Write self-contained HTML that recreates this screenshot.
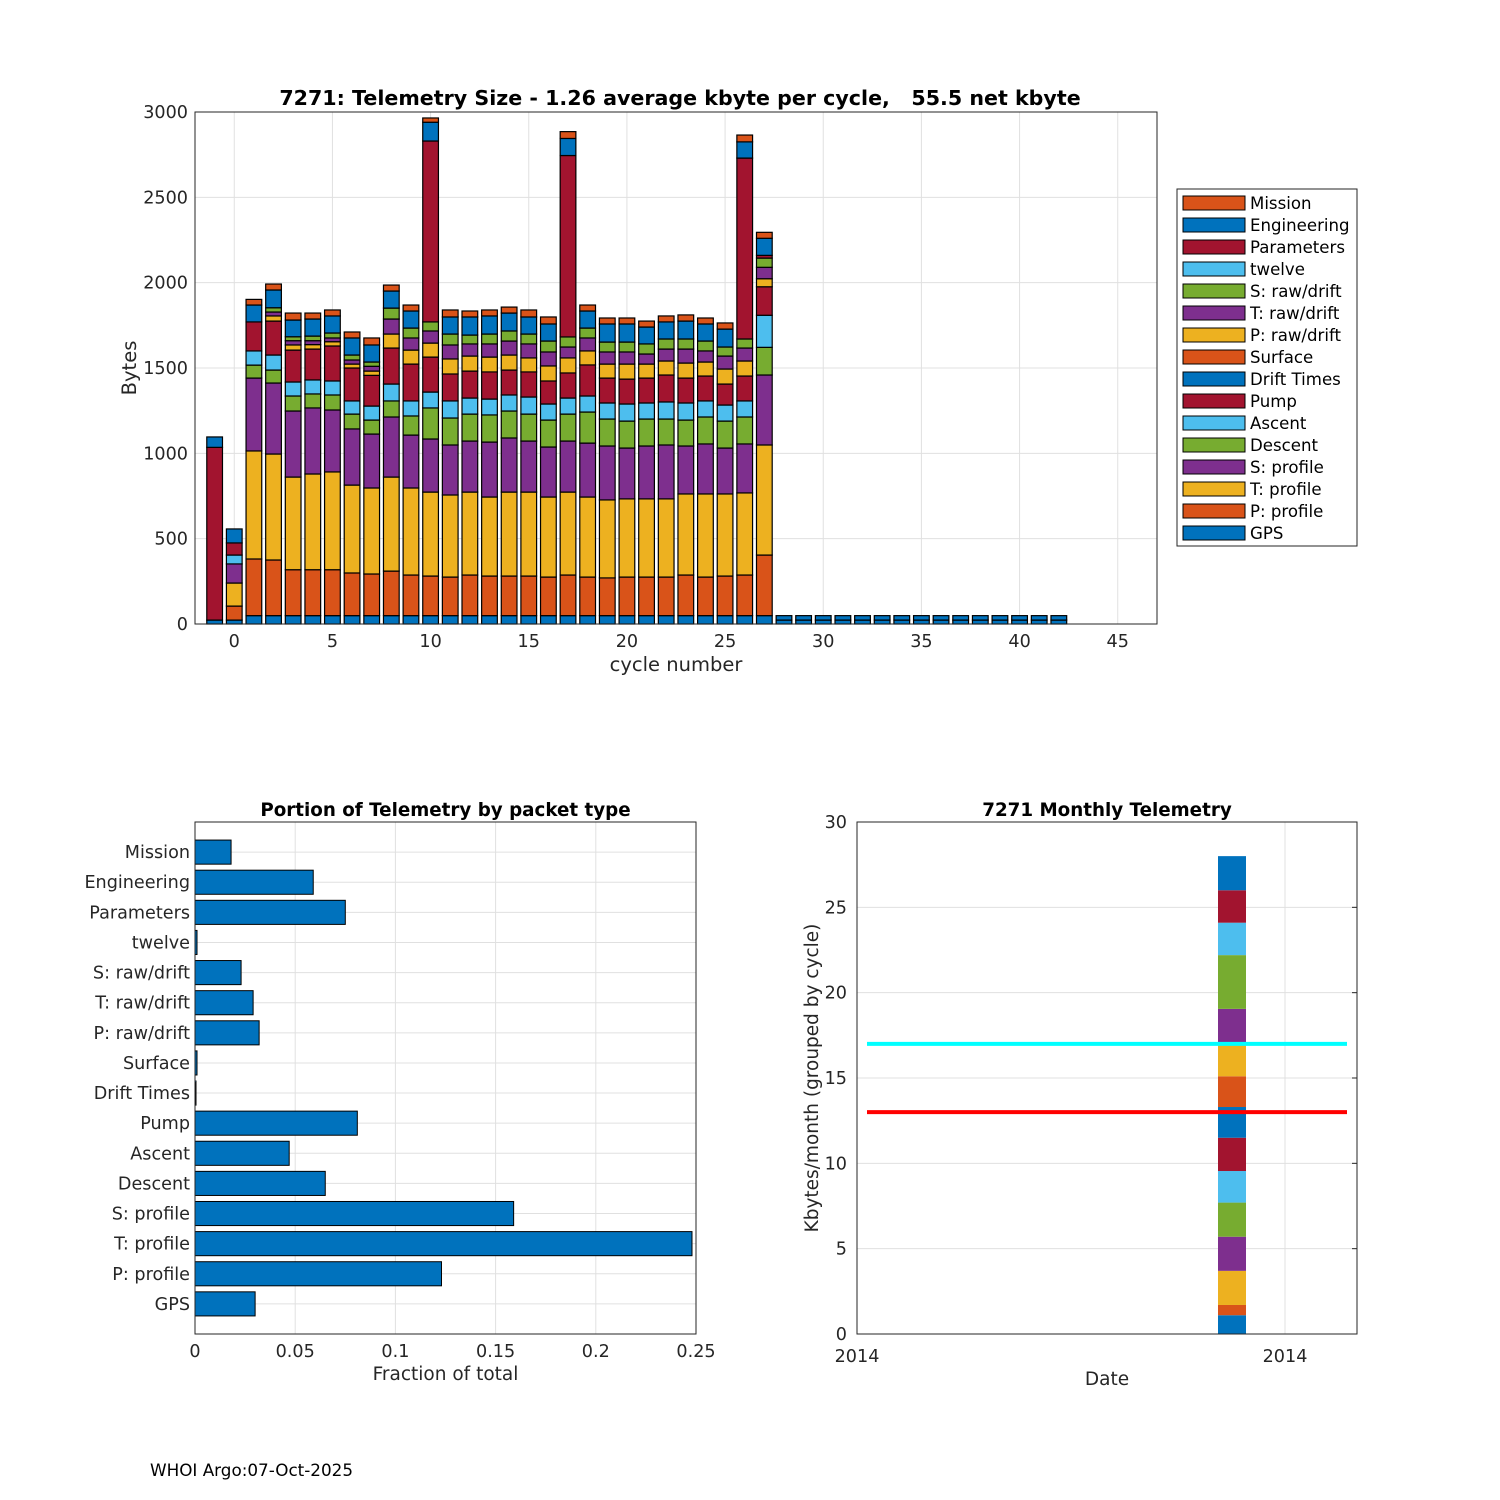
<!DOCTYPE html>
<html><head><meta charset="utf-8">
<style>
body{margin:0;background:#fff;}
svg{display:block;font-family:"DejaVu Sans","Liberation Sans",sans-serif;}
</style></head>
<body>
<svg id="fig" width="1500" height="1500" viewBox="0 0 1500 1500" xmlns="http://www.w3.org/2000/svg">
<rect width="1500" height="1500" fill="#fff"/>
<g id="top"></g><g id="bl"></g><g id="br"></g>
<text x="150" y="1476" font-size="16.8" fill="#000">WHOI Argo:07-Oct-2025</text>
</svg>
<script>
// ---- top chart data (cycles -1 .. 42) ----
const cycles = Array.from({length:44},(_,i)=>i-1);
const seriesNames = ["GPS","P: profile","T: profile","S: profile","Descent","Ascent","Pump","Drift Times","Surface","P: raw/drift","T: raw/drift","S: raw/drift","twelve","Parameters","Engineering","Mission"];
const gpsVals = [23,23,49,49,49,49,49,49,49,49,49,49,49,49,49,49,49,49,49,49,49,49,49,49,49,49,49,49,49,23,23,23,23,23,23,23,23,23,23,23,23,23,23,23];
const pProfVals = [0,82,332,326,269,269,269,250,244,261,238,232,226,238,232,232,232,226,238,226,221,226,226,226,238,226,232,238,355];
const tProfVals = [0,135,633,621,543,561,573,515,504,551,510,492,481,486,463,492,492,469,486,469,457,458,458,458,475,487,481,481,645];
const sProfVals = [0,112,427,416,387,387,363,329,316,352,310,311,293,299,322,317,299,293,299,316,316,298,310,316,281,293,269,287,410];
const descentVals = [0,0,76,76,88,82,88,87,82,94,112,182,158,158,159,158,158,158,158,182,158,158,158,152,152,158,158,158,162];
const ascentVals = [0,52,83,88,82,82,82,77,82,99,88,93,100,94,93,94,100,94,94,94,94,100,94,100,100,94,94,94,188];
const pumpVals = [1012,71,170,199,187,181,205,193,180,211,216,205,158,158,159,146,147,135,147,182,146,146,146,158,146,146,123,146,167];
const driftVals = [0,0,0,0,0,0,0,0,0,0,0,0,0,0,0,0,0,0,0,0,0,0,0,0,0,0,0,0,0,26,26,26,26,26,26,26,26,26,26,26,26,26,26,26];
const surfaceVals = [];
const pRawVals = [0,0,0,30,30,26,25,23,25,82,82,82,88,88,87,88,82,88,88,82,82,88,82,82,88,82,88,88,47];
const tRawVals = [0,0,0,23,25,23,22,24,28,88,71,71,82,71,77,82,82,82,64,76,71,71,59,70,82,65,76,76,67];
const sRawVals = [0,0,0,25,23,27,29,29,25,64,58,53,64,52,58,59,58,64,59,58,58,58,59,59,59,58,53,53,54];
const twelveVals = [];
const paramVals = [0,0,0,0,0,0,0,0,0,0,0,1060,0,0,0,0,0,0,1063,0,0,0,0,0,0,0,0,1060,16];
const engVals = [61,82,99,104,98,100,100,100,100,100,100,110,100,106,106,105,100,100,100,100,106,106,99,100,105,100,105,95,100];
const missionVals = [0,0,33,35,41,35,35,35,41,35,35,25,41,35,35,35,41,41,40,35,35,35,35,35,36,35,36,40,35];
const yTicksTop = [0,500,1000,1500,2000,2500,3000];
const xTicksTop = [0,5,10,15,20,25,30,35,40,45];

// ---- bottom-left data ----
const fracCats = ["GPS","P: profile","T: profile","S: profile","Descent","Ascent","Pump","Drift Times","Surface","P: raw/drift","T: raw/drift","S: raw/drift","twelve","Parameters","Engineering","Mission"];
const fracVals = [0.030,0.123,0.248,0.159,0.065,0.047,0.081,0.0005,0.001,0.032,0.029,0.023,0.001,0.075,0.059,0.018];
const fracTicks = [0,0.05,0.1,0.15,0.2,0.25];
const fracTickLabels = ["0","0.05","0.1","0.15","0.2","0.25"];

// ---- bottom-right data ----
const monthSegs = [1.1,0.6,2.0,2.0,2.0,1.85,1.95,1.8,1.8,1.9,2.05,3.15,1.9,1.9,2.0];
const monthYTicks = [0,5,10,15,20,25,30];
const cyanLevel = 17;
const redLevel = 13;

const C = ["#0072BD","#D95319","#EDB120","#7E2F8E","#77AC30","#4DBEEE","#A2142F"];
const NS = "http://www.w3.org/2000/svg";
const FS = 17.6;
function mk(parent, tag, attrs, text){
  const e = document.createElementNS(NS, tag);
  for (const k in attrs) e.setAttribute(k, attrs[k]);
  if (text !== undefined) e.textContent = text;
  parent.appendChild(e); return e;
}

// ===== TOP CHART =====
(function(){
  const g = document.getElementById('top');
  const L=195,R=1157,T=112,B=624;
  const xs = v => L + (v+2)/49*(R-L);
  const ys = v => B - v/3000*(B-T);
  const gridG = mk(g,'g',{});
  
  
  yTicksTop.forEach(t=>{
    mk(gridG,'line',{x1:L,x2:R,y1:ys(t),y2:ys(t),stroke:'#e0e0e0','stroke-width':1});
    const tx = mk(g,'text',{x:L-7,y:ys(t)+6,'text-anchor':'end','font-size':FS,fill:'#262626'},String(t));
    
    
  });
  xTicksTop.forEach(t=>{
    mk(gridG,'line',{x1:xs(t),x2:xs(t),y1:T,y2:B,stroke:'#e0e0e0','stroke-width':1});
    const tx = mk(g,'text',{x:xs(t),y:B+23,'text-anchor':'middle','font-size':FS,fill:'#262626'},String(t));
    
    
  });
  const series = [gpsVals,pProfVals,tProfVals,sProfVals,descentVals,ascentVals,pumpVals,driftVals,surfaceVals,pRawVals,tRawVals,sRawVals,twelveVals,paramVals,engVals,missionVals];
  const bw = 0.8/49*(R-L);
  cycles.forEach((c,i)=>{
    let acc = 0;
    series.forEach((s,k)=>{
      const v = s[i]||0;
      if (v<=0) return;
      const y0 = ys(acc), y1 = ys(acc+v);
      const r = mk(g,'rect',{x:xs(c)-bw/2,y:y1,width:bw,height:y0-y1,fill:C[k%7],stroke:'#000','stroke-width':1.2});
      
      
      acc += v;
    });
  });
  const fr = mk(g,'rect',{x:L,y:T,width:R-L,height:B-T,fill:'none',stroke:'#262626','stroke-width':1});
  
  
  const title = mk(g,'text',{x:680,y:105,'text-anchor':'middle','font-size':20.6,'font-weight':'bold',fill:'#000',style:'white-space:pre'},'7271: Telemetry Size - 1.26 average kbyte per cycle,   55.5 net kbyte');
  
  
  const yl = mk(g,'text',{x:0,y:0,transform:'translate(136,368) rotate(-90)','text-anchor':'middle','font-size':19.5,fill:'#262626'},'Bytes');
  
  
  const xl = mk(g,'text',{x:(L+R)/2,y:671,'text-anchor':'middle','font-size':19.5,fill:'#262626'},'cycle number');
  
  
  // legend
  const lg = mk(g,'g',{});
  
  
  mk(lg,'rect',{x:1177,y:189,width:180,height:357,fill:'#fff',stroke:'#262626','stroke-width':1});
  for (let j=0;j<16;j++){
    const k = 15-j;
    const y = 196 + j*22;
    const e = mk(lg,'g',{});
    
    
    mk(e,'rect',{x:1183,y:y,width:62,height:14,fill:C[k%7],stroke:'#000','stroke-width':1});
    mk(e,'text',{x:1250,y:y+13,'font-size':16.6,fill:'#000'},seriesNames[k]);
  }
})();

// ===== BOTTOM-LEFT =====
(function(){
  const g = document.getElementById('bl');
  const L=195,R=696,T=822,B=1334;
  const xs = v => L + v/0.25*(R-L);
  const ys = i => B - (i+1)/17*(B-T);
  fracTicks.forEach((t,i)=>{
    mk(g,'line',{x1:xs(t),x2:xs(t),y1:T,y2:B,stroke:'#e0e0e0','stroke-width':1});
    const tx = mk(g,'text',{x:xs(t),y:B+23,'text-anchor':'middle','font-size':FS,fill:'#262626'},fracTickLabels[i]);
    
    
  });
  fracCats.forEach((c,i)=>{
    mk(g,'line',{x1:L,x2:R,y1:ys(i),y2:ys(i),stroke:'#e0e0e0','stroke-width':1});
    const tx = mk(g,'text',{x:L-5,y:ys(i)+6,'text-anchor':'end','font-size':FS,fill:'#262626'},c);
    
    
  });
  const bh = 0.8/17*(B-T);
  fracVals.forEach((v,i)=>{
    const r = mk(g,'rect',{x:L,y:ys(i)-bh/2,width:xs(v)-L,height:bh,fill:'#0072BD',stroke:'#000','stroke-width':1});
    
    
  });
  const fr = mk(g,'rect',{x:L,y:T,width:R-L,height:B-T,fill:'none',stroke:'#262626','stroke-width':1});
  
  
  const ti = mk(g,'text',{x:(L+R)/2,y:816,'text-anchor':'middle','font-size':18.3,'font-weight':'bold',fill:'#000'},'Portion of Telemetry by packet type');
  
  
  const xl = mk(g,'text',{x:(L+R)/2,y:1380,'text-anchor':'middle','font-size':18.5,fill:'#262626'},'Fraction of total');
  
  
})();

// ===== BOTTOM-RIGHT =====
(function(){
  const g = document.getElementById('br');
  const L=857,R=1357,T=822,B=1334;
  const ys = v => B - v/30*(B-T);
  monthYTicks.forEach(t=>{
    mk(g,'line',{x1:L,x2:R,y1:ys(t),y2:ys(t),stroke:'#e0e0e0','stroke-width':1});
    mk(g,'line',{x1:R-5,x2:R,y1:ys(t),y2:ys(t),stroke:'#262626','stroke-width':1});
    const tx = mk(g,'text',{x:L-10,y:ys(t)+6,'text-anchor':'end','font-size':FS,fill:'#262626'},String(t));
    
    
  });
  [L,1285].forEach(x=>{
    mk(g,'line',{x1:x,x2:x,y1:T,y2:B,stroke:'#e0e0e0','stroke-width':1});
    const tx = mk(g,'text',{x:x,y:B+28,'text-anchor':'middle','font-size':FS,fill:'#262626'},'2014');
    
    
  });
  let acc = 0;
  monthSegs.forEach((v,i)=>{
    const r = mk(g,'rect',{x:1218,y:ys(acc+v),width:28,height:ys(acc)-ys(acc+v),fill:C[i%7]});
    
    
    acc += v;
  });
  const cy = mk(g,'line',{x1:867,x2:1347,y1:ys(cyanLevel),y2:ys(cyanLevel),stroke:'#00FFFF','stroke-width':4});
  
  
  const rd = mk(g,'line',{x1:867,x2:1347,y1:ys(redLevel),y2:ys(redLevel),stroke:'#FF0000','stroke-width':4});
  
  
  const fr = mk(g,'rect',{x:L,y:T,width:R-L,height:B-T,fill:'none',stroke:'#262626','stroke-width':1});
  
  
  const ti = mk(g,'text',{x:(L+R)/2,y:816,'text-anchor':'middle','font-size':18.3,'font-weight':'bold',fill:'#000'},'7271 Monthly Telemetry');
  
  
  const yl = mk(g,'text',{x:0,y:0,transform:'translate(818,1078) rotate(-90)','text-anchor':'middle','font-size':18.5,fill:'#262626'},'Kbytes/month (grouped by cycle)');
  
  
  const xl = mk(g,'text',{x:1107,y:1385,'text-anchor':'middle','font-size':18.5,fill:'#262626'},'Date');
  
  
})();
</script>
</body></html>
